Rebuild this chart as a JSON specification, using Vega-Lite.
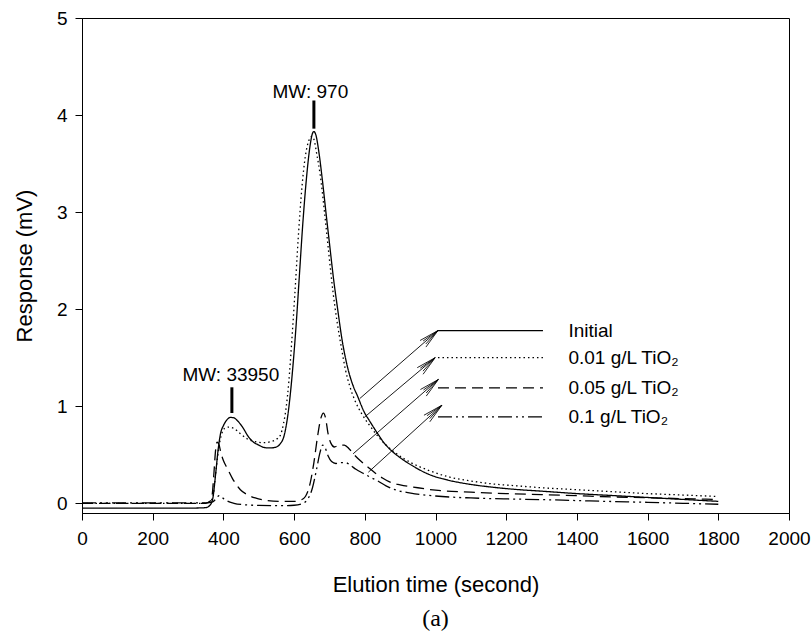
{
  "$schema": "https://vega.github.io/schema/vega-lite/v6.json",
  "width": 707,
  "height": 495,
  "autosize": {"type": "none"},
  "padding": {"left": 82, "top": 18, "right": 23, "bottom": 126},
  "background": "white",
  "config": {
    "font": "Liberation Sans",
    "view": {"stroke": "black", "strokeWidth": 1},
    "axis": {
      "grid": false,
      "domainColor": "black",
      "tickColor": "black",
      "tickSize": 7,
      "labelColor": "black",
      "labelFont": "Liberation Sans",
      "labelFontSize": 19,
      "labelFlush": false,
      "titleFont": "Liberation Sans",
      "titleFontSize": 22,
      "titleFontWeight": "normal",
      "titleColor": "black"
    }
  },
  "title": {"text": "(a)", "orient": "bottom", "font": "Liberation Serif", "fontSize": 24, "fontWeight": "normal", "color": "black", "offset": 12, "anchor": "middle"},
  "datasets": {
    "curves": [
      {"s":"Initial","t":0,"r":-0.05},{"s":"Initial","t":100,"r":-0.05},{"s":"Initial","t":200,"r":-0.05},{"s":"Initial","t":300,"r":-0.05},{"s":"Initial","t":350,"r":-0.045},{"s":"Initial","t":362,"r":-0.02},{"s":"Initial","t":370,"r":0.05},{"s":"Initial","t":378,"r":0.3},{"s":"Initial","t":385,"r":0.55},{"s":"Initial","t":392,"r":0.72},{"s":"Initial","t":400,"r":0.8},{"s":"Initial","t":410,"r":0.86},{"s":"Initial","t":420,"r":0.885},{"s":"Initial","t":430,"r":0.88},{"s":"Initial","t":440,"r":0.85},{"s":"Initial","t":455,"r":0.78},{"s":"Initial","t":470,"r":0.69},{"s":"Initial","t":485,"r":0.63},{"s":"Initial","t":500,"r":0.6},{"s":"Initial","t":515,"r":0.575},{"s":"Initial","t":530,"r":0.57},{"s":"Initial","t":545,"r":0.575},{"s":"Initial","t":560,"r":0.61},{"s":"Initial","t":572,"r":0.7},{"s":"Initial","t":582,"r":0.9},{"s":"Initial","t":590,"r":1.15},{"s":"Initial","t":598,"r":1.47},{"s":"Initial","t":606,"r":1.85},{"s":"Initial","t":615,"r":2.35},{"s":"Initial","t":625,"r":2.9},{"s":"Initial","t":635,"r":3.35},{"s":"Initial","t":645,"r":3.68},{"s":"Initial","t":651,"r":3.8},{"s":"Initial","t":656,"r":3.83},{"s":"Initial","t":662,"r":3.79},{"s":"Initial","t":670,"r":3.62},{"s":"Initial","t":680,"r":3.33},{"s":"Initial","t":690,"r":3.0},{"s":"Initial","t":700,"r":2.68},{"s":"Initial","t":712,"r":2.3},{"s":"Initial","t":724,"r":1.98},{"s":"Initial","t":735,"r":1.7},{"s":"Initial","t":750,"r":1.42},{"s":"Initial","t":765,"r":1.23},{"s":"Initial","t":780,"r":1.1},{"s":"Initial","t":797,"r":0.95},{"s":"Initial","t":815,"r":0.84},{"s":"Initial","t":836,"r":0.72},{"s":"Initial","t":855,"r":0.62},{"s":"Initial","t":873,"r":0.55},{"s":"Initial","t":900,"r":0.47},{"s":"Initial","t":938,"r":0.38},{"s":"Initial","t":980,"r":0.3},{"s":"Initial","t":1034,"r":0.24},{"s":"Initial","t":1090,"r":0.2},{"s":"Initial","t":1156,"r":0.168},{"s":"Initial","t":1220,"r":0.145},{"s":"Initial","t":1300,"r":0.125},{"s":"Initial","t":1400,"r":0.1},{"s":"Initial","t":1500,"r":0.08},{"s":"Initial","t":1600,"r":0.06},{"s":"Initial","t":1700,"r":0.04},{"s":"Initial","t":1800,"r":0.02},

      {"s":"0.01","t":0,"r":0},{"s":"0.01","t":100,"r":0},{"s":"0.01","t":200,"r":0},{"s":"0.01","t":300,"r":0},{"s":"0.01","t":350,"r":0},{"s":"0.01","t":362,"r":0.02},{"s":"0.01","t":370,"r":0.06},{"s":"0.01","t":378,"r":0.3},{"s":"0.01","t":386,"r":0.55},{"s":"0.01","t":394,"r":0.7},{"s":"0.01","t":403,"r":0.77},{"s":"0.01","t":415,"r":0.785},{"s":"0.01","t":430,"r":0.77},{"s":"0.01","t":447,"r":0.72},{"s":"0.01","t":467,"r":0.665},{"s":"0.01","t":490,"r":0.635},{"s":"0.01","t":513,"r":0.625},{"s":"0.01","t":535,"r":0.635},{"s":"0.01","t":550,"r":0.66},{"s":"0.01","t":561,"r":0.7},{"s":"0.01","t":570,"r":0.82},{"s":"0.01","t":578,"r":1.0},{"s":"0.01","t":585,"r":1.25},{"s":"0.01","t":593,"r":1.65},{"s":"0.01","t":602,"r":2.15},{"s":"0.01","t":612,"r":2.75},{"s":"0.01","t":622,"r":3.25},{"s":"0.01","t":632,"r":3.58},{"s":"0.01","t":642,"r":3.74},{"s":"0.01","t":650,"r":3.78},{"s":"0.01","t":656,"r":3.75},{"s":"0.01","t":664,"r":3.6},{"s":"0.01","t":674,"r":3.38},{"s":"0.01","t":686,"r":3.0},{"s":"0.01","t":698,"r":2.58},{"s":"0.01","t":710,"r":2.18},{"s":"0.01","t":722,"r":1.86},{"s":"0.01","t":734,"r":1.6},{"s":"0.01","t":745,"r":1.38},{"s":"0.01","t":758,"r":1.2},{"s":"0.01","t":772,"r":1.06},{"s":"0.01","t":790,"r":0.93},{"s":"0.01","t":810,"r":0.82},{"s":"0.01","t":835,"r":0.7},{"s":"0.01","t":860,"r":0.6},{"s":"0.01","t":890,"r":0.51},{"s":"0.01","t":930,"r":0.42},{"s":"0.01","t":980,"r":0.34},{"s":"0.01","t":1040,"r":0.27},{"s":"0.01","t":1100,"r":0.23},{"s":"0.01","t":1160,"r":0.2},{"s":"0.01","t":1230,"r":0.18},{"s":"0.01","t":1300,"r":0.16},{"s":"0.01","t":1400,"r":0.14},{"s":"0.01","t":1500,"r":0.12},{"s":"0.01","t":1600,"r":0.1},{"s":"0.01","t":1700,"r":0.085},{"s":"0.01","t":1800,"r":0.07},

      {"s":"0.05","t":0,"r":0},{"s":"0.05","t":100,"r":0},{"s":"0.05","t":200,"r":0},{"s":"0.05","t":300,"r":0},{"s":"0.05","t":350,"r":0},{"s":"0.05","t":362,"r":0.02},{"s":"0.05","t":368,"r":0.08},{"s":"0.05","t":373,"r":0.3},{"s":"0.05","t":378,"r":0.55},{"s":"0.05","t":382,"r":0.63},{"s":"0.05","t":387,"r":0.61},{"s":"0.05","t":393,"r":0.52},{"s":"0.05","t":400,"r":0.44},{"s":"0.05","t":411,"r":0.36},{"s":"0.05","t":425,"r":0.26},{"s":"0.05","t":448,"r":0.14},{"s":"0.05","t":470,"r":0.085},{"s":"0.05","t":490,"r":0.055},{"s":"0.05","t":520,"r":0.03},{"s":"0.05","t":560,"r":0.02},{"s":"0.05","t":600,"r":0.02},{"s":"0.05","t":620,"r":0.035},{"s":"0.05","t":632,"r":0.07},{"s":"0.05","t":645,"r":0.2},{"s":"0.05","t":656,"r":0.42},{"s":"0.05","t":666,"r":0.68},{"s":"0.05","t":676,"r":0.88},{"s":"0.05","t":683,"r":0.93},{"s":"0.05","t":689,"r":0.88},{"s":"0.05","t":696,"r":0.72},{"s":"0.05","t":704,"r":0.62},{"s":"0.05","t":714,"r":0.58},{"s":"0.05","t":728,"r":0.6},{"s":"0.05","t":742,"r":0.6},{"s":"0.05","t":756,"r":0.56},{"s":"0.05","t":770,"r":0.5},{"s":"0.05","t":790,"r":0.43},{"s":"0.05","t":810,"r":0.37},{"s":"0.05","t":830,"r":0.31},{"s":"0.05","t":850,"r":0.26},{"s":"0.05","t":870,"r":0.22},{"s":"0.05","t":900,"r":0.19},{"s":"0.05","t":950,"r":0.16},{"s":"0.05","t":1000,"r":0.135},{"s":"0.05","t":1100,"r":0.115},{"s":"0.05","t":1200,"r":0.1},{"s":"0.05","t":1300,"r":0.09},{"s":"0.05","t":1400,"r":0.078},{"s":"0.05","t":1500,"r":0.066},{"s":"0.05","t":1600,"r":0.057},{"s":"0.05","t":1700,"r":0.048},{"s":"0.05","t":1800,"r":0.04},

      {"s":"0.1","t":0,"r":0.005},{"s":"0.1","t":100,"r":0.005},{"s":"0.1","t":200,"r":0.005},{"s":"0.1","t":300,"r":0.005},{"s":"0.1","t":350,"r":0.005},{"s":"0.1","t":370,"r":0.015},{"s":"0.1","t":380,"r":0.05},{"s":"0.1","t":388,"r":0.08},{"s":"0.1","t":396,"r":0.06},{"s":"0.1","t":410,"r":0.025},{"s":"0.1","t":430,"r":0.0},{"s":"0.1","t":460,"r":-0.015},{"s":"0.1","t":500,"r":-0.022},{"s":"0.1","t":560,"r":-0.025},{"s":"0.1","t":600,"r":-0.02},{"s":"0.1","t":625,"r":0.0},{"s":"0.1","t":640,"r":0.05},{"s":"0.1","t":652,"r":0.16},{"s":"0.1","t":663,"r":0.34},{"s":"0.1","t":673,"r":0.52},{"s":"0.1","t":681,"r":0.6},{"s":"0.1","t":688,"r":0.57},{"s":"0.1","t":696,"r":0.49},{"s":"0.1","t":706,"r":0.43},{"s":"0.1","t":718,"r":0.41},{"s":"0.1","t":732,"r":0.42},{"s":"0.1","t":746,"r":0.42},{"s":"0.1","t":760,"r":0.39},{"s":"0.1","t":775,"r":0.35},{"s":"0.1","t":795,"r":0.31},{"s":"0.1","t":815,"r":0.27},{"s":"0.1","t":837,"r":0.23},{"s":"0.1","t":860,"r":0.18},{"s":"0.1","t":890,"r":0.135},{"s":"0.1","t":930,"r":0.105},{"s":"0.1","t":1000,"r":0.075},{"s":"0.1","t":1100,"r":0.055},{"s":"0.1","t":1200,"r":0.045},{"s":"0.1","t":1300,"r":0.038},{"s":"0.1","t":1400,"r":0.028},{"s":"0.1","t":1500,"r":0.018},{"s":"0.1","t":1600,"r":0.01},{"s":"0.1","t":1700,"r":0.0},{"s":"0.1","t":1800,"r":-0.01}
    ],
    "legend": [
      {"s":"Initial","label":"Initial","x1":1007,"x2":1304,"y":1.78,"tx":1376},
      {"s":"0.01","label":"0.01 g/L TiO₂","x1":1007,"x2":1304,"y":1.5,"tx":1376},
      {"s":"0.05","label":"0.05 g/L TiO₂","x1":1007,"x2":1304,"y":1.19,"tx":1376},
      {"s":"0.1","label":"0.1 g/L TiO₂","x1":1007,"x2":1304,"y":0.89,"tx":1376}
    ],
    "arrows": [
      {"ax":786,"ay":1.08,"bx":1007,"by":1.78},
      {"ax":800,"ay":0.89,"bx":999,"by":1.5},
      {"ax":767,"ay":0.51,"bx":1008,"by":1.275},
      {"ax":810,"ay":0.32,"bx":1018,"by":1.01}
    ],
    "mw": [
      {"label":"MW: 33950","x":424,"y1":0.93,"y2":1.195,"tx":421,"ty":1.324},
      {"label":"MW: 970","x":656,"y1":3.86,"y2":4.15,"tx":646,"ty":4.238}
    ]
  },
  "layer": [
    {
      "data": {"name": "curves"},
      "mark": {"type": "line", "color": "black", "strokeWidth": 1.3, "interpolate": "monotone"},
      "encoding": {
        "x": {"field": "t", "type": "quantitative", "scale": {"domain": [0, 2000], "nice": false}, "axis": {"title": "Elution time (second)", "values": [0,200,400,600,800,1000,1200,1400,1600,1800,2000], "format": "d", "labelPadding": 9, "titlePadding": 26}},
        "y": {"field": "r", "type": "quantitative", "scale": {"domain": [-0.1, 5], "nice": false, "zero": false}, "axis": {"title": "Response (mV)", "values": [0,1,2,3,4,5], "format": "d", "labelPadding": 8, "titlePadding": 20}},
        "strokeDash": {"field": "s", "type": "nominal", "scale": {"domain": ["Initial","0.01","0.05","0.1"], "range": [[1,0],[1.5,3],[11,6],[14,4,2,4,2,4]]}, "legend": null},
        "detail": {"field": "s"}
      }
    },
    {
      "data": {"name": "legend"},
      "mark": {"type": "rule", "color": "black", "strokeWidth": 1.3},
      "encoding": {
        "x": {"field": "x1", "type": "quantitative"},
        "x2": {"field": "x2"},
        "y": {"field": "y", "type": "quantitative"},
        "strokeDash": {"field": "s", "type": "nominal", "legend": null}
      }
    },
    {
      "data": {"name": "legend"},
      "mark": {"type": "text", "align": "left", "baseline": "middle", "fontSize": 19, "font": "Liberation Sans", "color": "black"},
      "encoding": {
        "x": {"field": "tx", "type": "quantitative"},
        "y": {"field": "y", "type": "quantitative"},
        "text": {"field": "label"}
      }
    },
    {
      "data": {"name": "arrows"},
      "mark": {"type": "rule", "color": "black", "strokeWidth": 0.9},
      "encoding": {
        "x": {"field": "ax", "type": "quantitative"},
        "y": {"field": "ay", "type": "quantitative"},
        "x2": {"field": "bx"},
        "y2": {"field": "by"}
      }
    },
    {
      "data": {"name": "arrows"},
      "mark": {"type": "point", "shape": "M0,0L-1,-0.22M0,0L-1,0.22M0,0L-0.9,-0.1M0,0L-0.9,0.1", "filled": false, "size": 1600, "angle": 318.5, "strokeWidth": 0.8, "color": "black", "opacity": 1},
      "encoding": {
        "x": {"field": "bx", "type": "quantitative"},
        "y": {"field": "by", "type": "quantitative"}
      }
    },
    {
      "data": {"name": "mw"},
      "mark": {"type": "rule", "color": "black", "strokeWidth": 3},
      "encoding": {
        "x": {"field": "x", "type": "quantitative"},
        "y": {"field": "y1", "type": "quantitative"},
        "y2": {"field": "y2"}
      }
    },
    {
      "data": {"name": "mw"},
      "mark": {"type": "text", "align": "center", "baseline": "middle", "fontSize": 19, "font": "Liberation Sans", "color": "black"},
      "encoding": {
        "x": {"field": "tx", "type": "quantitative"},
        "y": {"field": "ty", "type": "quantitative"},
        "text": {"field": "label"}
      }
    }
  ]
}
